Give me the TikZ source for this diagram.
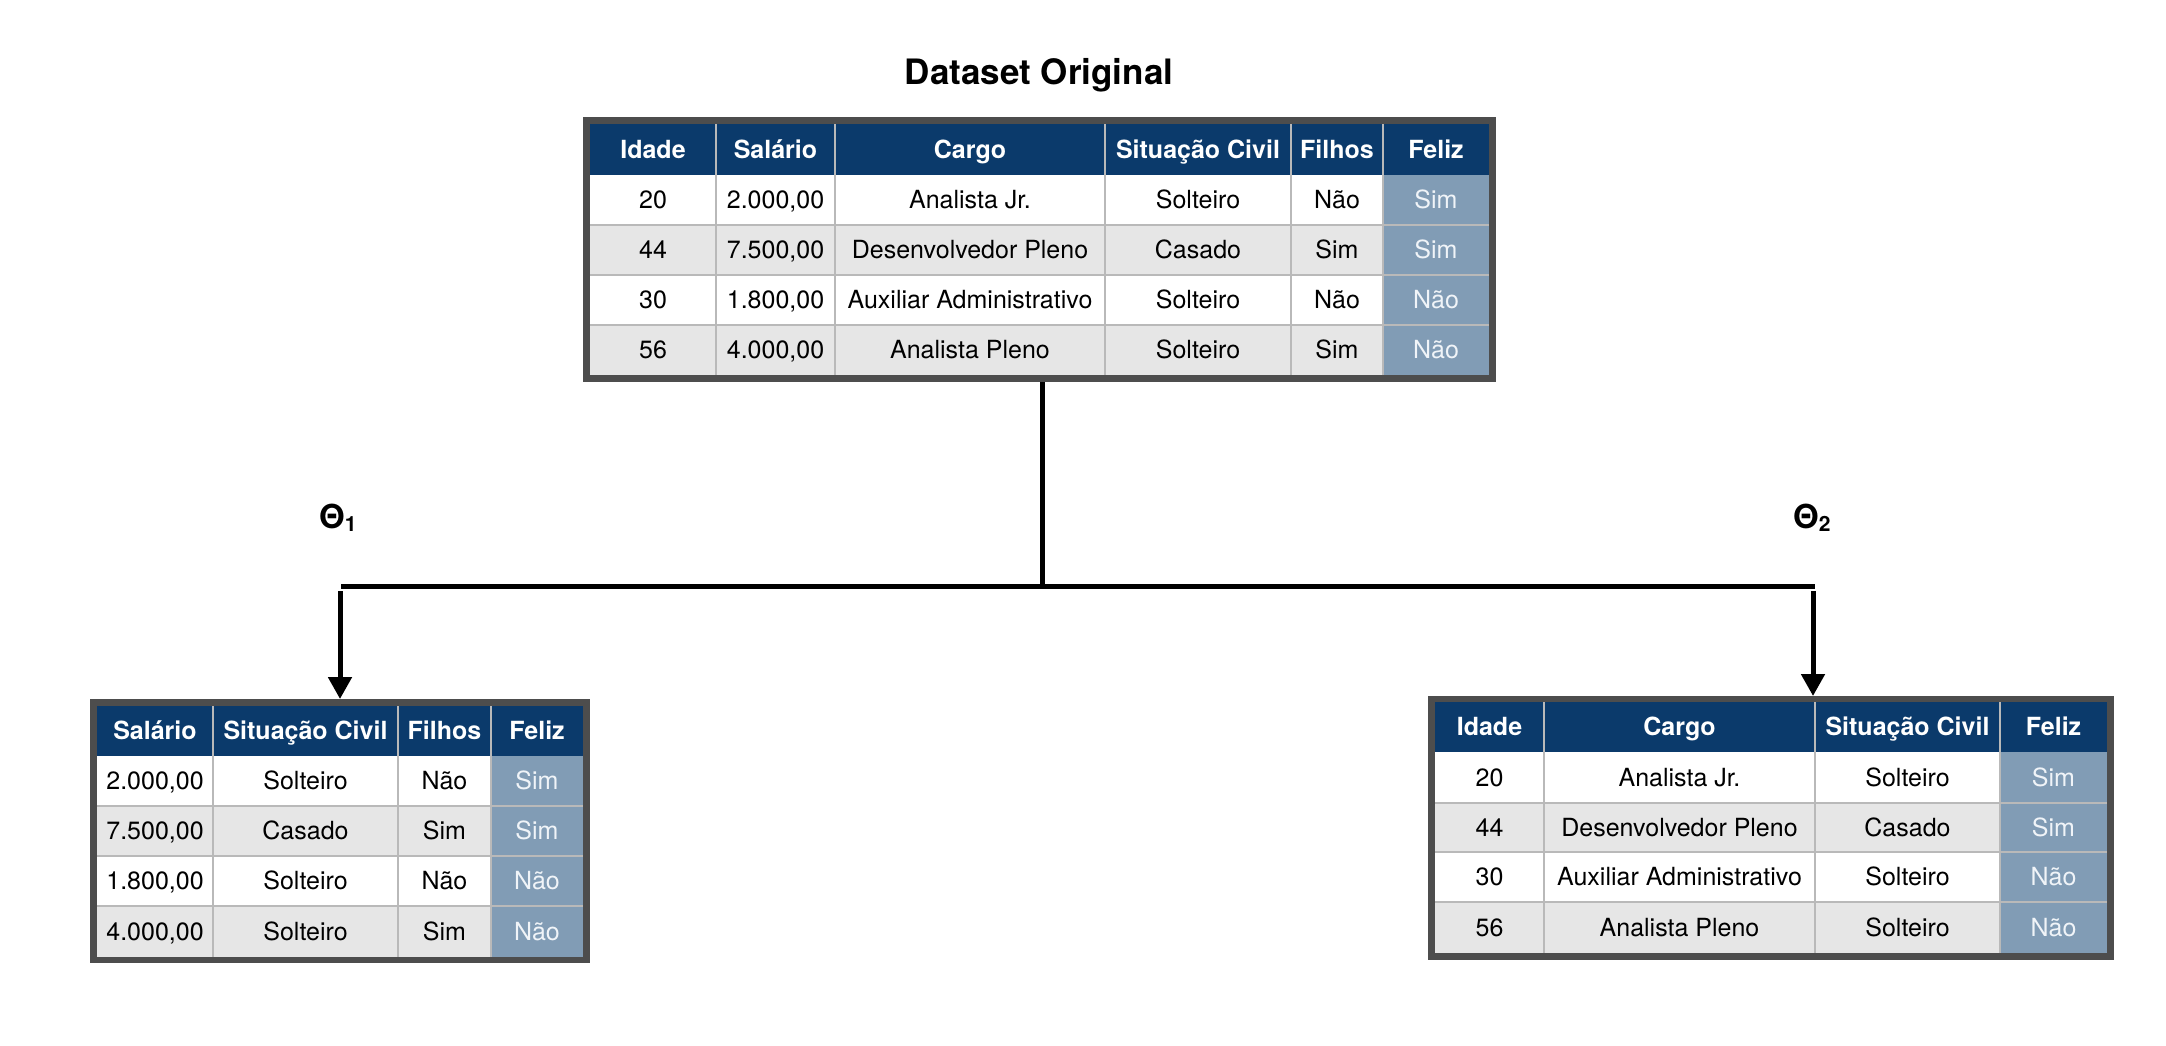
\documentclass[tikz,border=0pt]{standalone}
\usepackage{fontspec}
\setmainfont{TeX Gyre Heros}
\usetikzlibrary{arrows.meta}
\definecolor{navy}{RGB}{11,58,107}
\definecolor{fz}{RGB}{129,156,181}
\definecolor{fztext}{RGB}{240,244,248}
\definecolor{rowgray}{RGB}{230,230,230}
\definecolor{gridc}{RGB}{185,185,185}
\definecolor{framec}{RGB}{77,77,77}
\tikzset{
  tblframe/.style={fill=framec, draw=none, inner sep=0pt, outer sep=0pt, anchor=north west},
  cell/.style={font=\fontsize{25}{30}\selectfont, text=black, inner sep=0pt, text height=17.9pt, text depth=0pt},
  hcell/.style={cell, font=\fontsize{25}{30}\selectfont\bfseries, text=white},
  fcell/.style={cell, text=fztext},
  conn/.style={line width=5pt, black},
  arr/.style={line width=5pt, black, -{Triangle[length=22pt,width=23pt]}},
  gridline/.style={gridc, line width=1.2pt},
  thetalbl/.style={font=\fontsize{33}{38}\selectfont\bfseries, inner sep=0pt, anchor=base west}
}
% data row of top table: name, y, six texts
\newcommand\toprow[8]{%
  \node[cell]  (#1-1) at (653,#2)    {#3};
  \node[cell]  (#1-2) at (775.5,#2)  {#4};
  \node[cell]  (#1-3) at (970,#2)    {#5};
  \node[cell]  (#1-4) at (1198,#2)   {#6};
  \node[cell]  (#1-5) at (1337,#2)   {#7};
  \node[fcell] (#1-6) at (1436,#2)   {#8};}
\newcommand\leftrow[6]{%
  \node[cell]  (#1-1) at (155,#2)    {#3};
  \node[cell]  (#1-2) at (305.5,#2)  {#4};
  \node[cell]  (#1-3) at (444.5,#2)  {#5};
  \node[fcell] (#1-4) at (537,#2)    {#6};}
\newcommand\rightrow[6]{%
  \node[cell]  (#1-1) at (1489.5,#2) {#3};
  \node[cell]  (#1-2) at (1679.5,#2) {#4};
  \node[cell]  (#1-3) at (1907.5,#2) {#5};
  \node[fcell] (#1-4) at (2053.5,#2) {#6};}
\begin{document}
\begin{tikzpicture}[x=1pt,y=-1pt]
\useasboundingbox[fill=white] (0,0) rectangle (2166,1046);

% ---------- title ----------
\node[font=\fontsize{35}{40}\selectfont\bfseries, inner sep=0pt, anchor=base] (title) at (1039,85) {Dataset Original};

% ---------- top table ----------
\node[tblframe, minimum width=913pt, minimum height=265pt] (top) at (583,117) {};
\fill[navy] (590,124) rectangle (1489,175);
\fill[white] (590,175) rectangle (1489,225);
\fill[rowgray] (590,225) rectangle (1489,275);
\fill[white] (590,275) rectangle (1489,325);
\fill[rowgray] (590,325) rectangle (1489,375);
\fill[fz] (1383,175) rectangle (1489,375);
\foreach \yy in {225,275,325} \draw[gridline] (590,\yy) -- (1489,\yy);
\foreach \xx in {716,835,1105,1291,1383} \draw[gridline] (\xx,124) -- (\xx,375);
\node[hcell] (th-1) at (653,149.5)   {Idade};
\node[hcell] (th-2) at (775.5,149.5) {Salário};
\node[hcell] (th-3) at (970,149.5)   {Cargo};
\node[hcell] (th-4) at (1198,149.5)  {Situação Civil};
\node[hcell] (th-5) at (1337,149.5)  {Filhos};
\node[hcell] (th-6) at (1436,149.5)  {Feliz};
\toprow{ta}{200}{20}{2.000,00}{Analista Jr.}{Solteiro}{Não}{Sim}
\toprow{tb}{250}{44}{7.500,00}{Desenvolvedor Pleno}{Casado}{Sim}{Sim}
\toprow{tc}{300}{30}{1.800,00}{Auxiliar Administrativo}{Solteiro}{Não}{Não}
\toprow{td}{350}{56}{4.000,00}{Analista Pleno}{Solteiro}{Sim}{Não}

% ---------- left table ----------
\node[tblframe, minimum width=500pt, minimum height=264pt] (left) at (90,699) {};
\fill[navy] (97,706) rectangle (583,756);
\fill[white] (97,756) rectangle (583,806);
\fill[rowgray] (97,806) rectangle (583,856);
\fill[white] (97,856) rectangle (583,906);
\fill[rowgray] (97,906) rectangle (583,957);
\fill[fz] (491,756) rectangle (583,957);
\foreach \yy in {806,856,906} \draw[gridline] (97,\yy) -- (583,\yy);
\foreach \xx in {213,398,491} \draw[gridline] (\xx,706) -- (\xx,957);
\node[hcell] (lh-1) at (155,731)   {Salário};
\node[hcell] (lh-2) at (305.5,731) {Situação Civil};
\node[hcell] (lh-3) at (444.5,731) {Filhos};
\node[hcell] (lh-4) at (537,731)   {Feliz};
\leftrow{la}{781}{2.000,00}{Solteiro}{Não}{Sim}
\leftrow{lb}{831}{7.500,00}{Casado}{Sim}{Sim}
\leftrow{lc}{881}{1.800,00}{Solteiro}{Não}{Não}
\leftrow{ld}{931.5}{4.000,00}{Solteiro}{Sim}{Não}

% ---------- right table ----------
\node[tblframe, minimum width=686pt, minimum height=264pt] (right) at (1428,696) {};
\fill[navy] (1435,702) rectangle (2107,752);
\fill[white] (1435,752) rectangle (2107,803);
\fill[rowgray] (1435,803) rectangle (2107,852);
\fill[white] (1435,852) rectangle (2107,902);
\fill[rowgray] (1435,902) rectangle (2107,953);
\fill[fz] (2000,752) rectangle (2107,953);
\foreach \yy in {803,852,902} \draw[gridline] (1435,\yy) -- (2107,\yy);
\foreach \xx in {1544,1815,2000} \draw[gridline] (\xx,702) -- (\xx,953);
\node[hcell] (rh-1) at (1489.5,727) {Idade};
\node[hcell] (rh-2) at (1679.5,727) {Cargo};
\node[hcell] (rh-3) at (1907.5,727) {Situação Civil};
\node[hcell] (rh-4) at (2053.5,727) {Feliz};
\rightrow{ra}{777.5}{20}{Analista Jr.}{Solteiro}{Sim}
\rightrow{rb}{827.5}{44}{Desenvolvedor Pleno}{Casado}{Sim}
\rightrow{rc}{877}{30}{Auxiliar Administrativo}{Solteiro}{Não}
\rightrow{rd}{927.5}{56}{Analista Pleno}{Solteiro}{Não}

% ---------- labels ----------
\node[thetalbl] (theta1) at (319,528) {Θ{\fontsize{21}{22}\selectfont\raisebox{-3pt}{1}}};
\node[thetalbl] (theta2) at (1793,528) {Θ{\fontsize{21}{22}\selectfont\raisebox{-3pt}{2}}};

% ---------- connectors ----------
\coordinate (jc) at (1042,586);
\coordinate (jl) at (341,586);
\coordinate (jr) at (1815,586);
\coordinate (al) at (340,591);
\coordinate (ar) at (1813,591);
\draw[conn] (top.south -| jc) -- (jc);
\draw[conn] (jl) -- (jr);
\draw[arr] (al) -- (left.north -| al);
\draw[arr] (ar) -- (right.north -| ar);
\end{tikzpicture}
\end{document}
